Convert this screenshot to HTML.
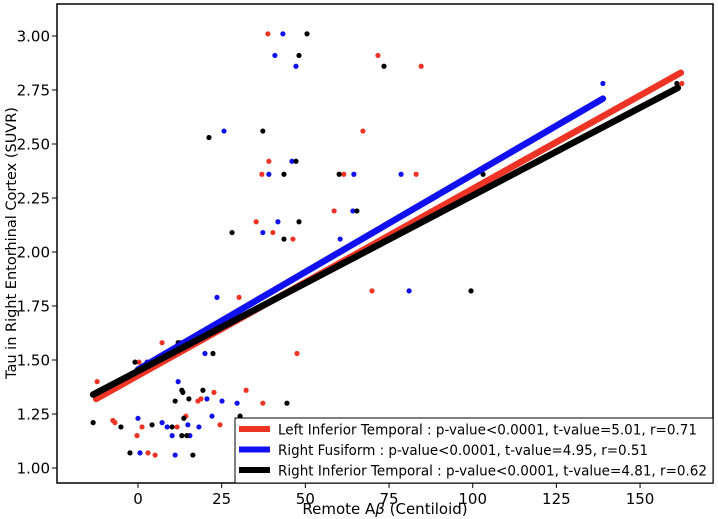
<!DOCTYPE html>
<html><head><meta charset="utf-8"><style>
body{margin:0;background:#fff;}
svg{display:block;font-family:"DejaVu Sans","Liberation Sans",sans-serif;}
</style></head><body>
<svg id="chart" width="718" height="519" viewBox="0 0 718 519"></svg>
<script>
const xTicks=[0,25,50,75,100,125,150];
const yTicks=[1.00,1.25,1.50,1.75,2.00,2.25,2.50,2.75,3.00];
const seriesNames=["Left Inferior Temporal : p-value<0.0001, t-value=5.01, r=0.71","Right Fusiform : p-value<0.0001, t-value=4.95, r=0.51","Right Inferior Temporal : p-value<0.0001, t-value=4.81, r=0.62"];
const redX=[38.8,71.7,84.6,67.2,39.1,37.0,61.5,83.1,58.6,35.3,40.3,46.3,30.2,69.9,-12.2,7.2,47.5,0.3,22.7,32.3,17.9,18.8,37.3,-7.5,-6.9,1.2,11.7,24.5,14.3,-0.3,3.0,5.1,77.7,118,162.5];
const redY=[3.01,2.91,2.86,2.56,2.42,2.36,2.36,2.36,2.19,2.14,2.09,2.06,1.79,1.82,1.40,1.58,1.53,1.49,1.35,1.36,1.31,1.32,1.30,1.22,1.21,1.19,1.19,1.20,1.24,1.15,1.07,1.06,1.22,1.18,2.78];
const blueX=[43.3,40.9,47.2,25.7,46.0,39.1,64.5,78.6,64.2,41.8,37.3,60.4,23.6,81.0,12.8,20.0,2.7,12.0,20.6,25.1,29.6,0,7.2,8.7,14.9,18.2,22.1,10.2,15.5,0.6,11.1,95.6,138.9];
const blueY=[3.01,2.91,2.86,2.56,2.42,2.36,2.36,2.36,2.19,2.14,2.09,2.06,1.79,1.82,1.58,1.53,1.49,1.40,1.32,1.31,1.30,1.23,1.21,1.19,1.20,1.19,1.24,1.15,1.15,1.07,1.06,1.22,2.78];
const blackX=[50.5,48.1,73.5,21.2,37.3,47.2,43.6,60.1,103.1,65.4,48.1,28.1,43.6,99.5,12.0,22.4,-0.9,13.1,13.4,19.4,11.1,15.2,44.5,-13.4,-5.1,4.2,10.2,30.5,13.7,13.1,14.6,-2.4,16.4,89.3,161];
const blackY=[3.01,2.91,2.86,2.53,2.56,2.42,2.36,2.36,2.36,2.19,2.14,2.09,2.06,1.82,1.58,1.53,1.49,1.36,1.35,1.36,1.31,1.32,1.30,1.21,1.19,1.20,1.19,1.24,1.23,1.15,1.15,1.07,1.06,1.22,2.78];
const lineX0=[-12.5,0,-13.4];
const lineY0=[1.32,1.456,1.34];
const lineX1=[162.2,138.9,161.3];
const lineY1=[2.83,2.71,2.76];

const NS="http://www.w3.org/2000/svg";
const svg=document.getElementById('chart');
const L=57,R=713,T=4,B=483;
const xs=v=>138+v*3.347;
const ys=v=>468-(v-1)*216;
function mk(tag,at,parent){const e=document.createElementNS(NS,tag);for(const k in at)e.setAttribute(k,at[k]);(parent||svg).appendChild(e);return e;}
const colors=["#ee3424","#1010f0","#000000"];
const xsArr=[redX,blueX,blackX], ysArr=[redY,blueY,blackY];
const names=["red","blue","black"];
for(let s=0;s<3;s++){
  const g=mk('g',{});
  
  
  for(let i=0;i<xsArr[s].length;i++){
    const c=mk('circle',{cx:xs(xsArr[s][i]),cy:ys(ysArr[s][i]),r:2.6,fill:colors[s]},g);
    
    
  }
}
for(let s=0;s<3;s++){
  const l=mk('line',{x1:xs(lineX0[s]),y1:ys(lineY0[s]),x2:xs(lineX1[s]),y2:ys(lineY1[s]),stroke:colors[s],'stroke-width':6.5,'stroke-linecap':'round'});
  
  
}
const frame=mk('rect',{x:L,y:T,width:R-L,height:B-T,fill:'none',stroke:'#000','stroke-width':1.5});


xTicks.forEach(v=>{
  const x=xs(v);
  mk('line',{x1:x,y1:B,x2:x,y2:B+5,stroke:'#000','stroke-width':1});
  const t=mk('text',{x:x,y:B+21,'text-anchor':'middle','font-size':15});
  t.textContent=v;
  
  
});
yTicks.forEach(v=>{
  const y=ys(v);
  mk('line',{x1:L-5,y1:y,x2:L,y2:y,stroke:'#000','stroke-width':1});
  const t=mk('text',{x:L-7,y:y+5.5,'text-anchor':'end','font-size':15});
  t.textContent=v.toFixed(2);
  
  
});
const xl=mk('text',{x:385,y:514,'text-anchor':'middle','font-size':15});
xl.innerHTML='Remote A<tspan font-style="italic">β</tspan> (Centiloid)';


const yl=mk('text',{x:0,y:0,'text-anchor':'middle','font-size':14.5,transform:'translate(16,243) rotate(-90)'});
yl.textContent='Tau in Right Entorhinal Cortex (SUVR)';


const lg=mk('g',{});


const lr=mk('rect',{x:235,y:418,width:478,height:65,fill:'#fff',stroke:'#000','stroke-width':1},lg);


const textLens=[419,370,429];
for(let s=0;s<3;s++){
  const y=429+s*20.5;
  const ll=mk('line',{x1:239,y1:y,x2:270,y2:y,stroke:colors[s],'stroke-width':6},lg);
  
  
  const t=mk('text',{x:278,y:y+5.5,'font-size':14.5,textLength:textLens[s],lengthAdjust:'spacingAndGlyphs'},lg);
  t.textContent=seriesNames[s];
  
  
}
</script>
</body></html>
